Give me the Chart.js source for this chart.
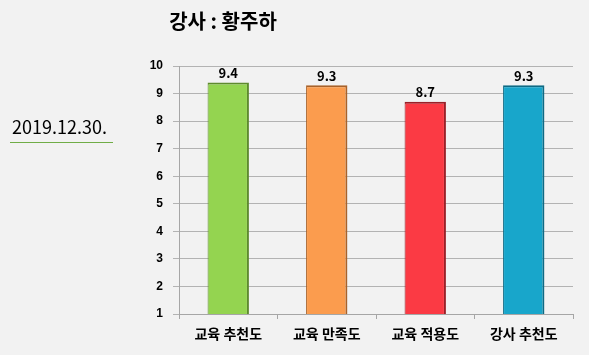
<!DOCTYPE html>
<html lang="ko">
<head>
  <meta charset="UTF-8">
  <title>강사 : 황주하</title>
  <script src="https://cdn.jsdelivr.net/npm/chart.js"></script>
  <style>
    html, body { margin: 0; padding: 0; background: #f2f2f2; }
    .wrap { position: relative; width: 589px; height: 355px; }
  </style>
</head>
<body>
  <div class="wrap"><canvas id="chart" width="589" height="355"></canvas></div>
  <script>
    // data
    const categories = ['교육 추천도', '교육 만족도', '교육 적용도', '강사 추천도'];
    const scores = [9.4, 9.3, 8.7, 9.3];
    const barColors = ['#94d450', '#fb9c4e', '#fb3a44', '#18a6cb'];
    const barEdges = ['#5e8a2e', '#a8622a', '#9a2028', '#0e6a84'];
    const titleText = '강사 : 황주하';
    const dateText = '2019.12.30.';

    const KR = '"Noto Sans CJK KR", "Noto Sans", sans-serif';

    // bar fill: light left, darker toward the right edge
    function barFill(ctx) {
      const el = ctx.element;
      const i = ctx.dataIndex;
      if (!el || el.width === undefined) return barColors[i];
      const g = ctx.chart.ctx.createLinearGradient(el.x - el.width / 2, 0, el.x + el.width / 2, 0);
      g.addColorStop(0, barColors[i]);
      g.addColorStop(0.8, barColors[i]);
      g.addColorStop(1, barEdges[i]);
      return g;
    }

    const extras = {
      id: 'extras',
      afterDraw(chart) {
        const c = chart.ctx;
        c.save();
        // title
        c.fillStyle = '#000';
        c.font = 'bold 20px ' + KR;
        c.textAlign = 'center';
        c.textBaseline = 'middle';
        c.fillText(titleText, 223, 21);
        // date + underline
        c.font = '18px ' + KR;
        c.textAlign = 'left';
        c.fillText(dateText, 12, 127);
        c.strokeStyle = '#70ad47';
        c.lineWidth = 1;
        c.beginPath();
        c.moveTo(10, 142.5);
        c.lineTo(113, 142.5);
        c.stroke();
        // value labels
        c.font = 'bold 13px ' + KR;
        c.textAlign = 'center';
        c.textBaseline = 'bottom';
        chart.getDatasetMeta(0).data.forEach((bar, i) => {
          c.fillText(scores[i].toFixed(1), bar.x, bar.y - 3);
        });
        c.restore();
      }
    };

    new Chart(document.getElementById('chart'), {
      type: 'bar',
      data: {
        labels: categories,
        datasets: [{
          data: scores,
          backgroundColor: barFill,
          borderColor: barEdges,
          borderWidth: { left: 1, right: 2, top: 2, bottom: 2 },
          borderSkipped: false,
          categoryPercentage: 0.42,
          barPercentage: 1
        }]
      },
      options: {
        responsive: false,
        animation: false,
        layout: { padding: { top: 66, right: 16, left: 0, bottom: 0 } },
        plugins: { legend: { display: false }, tooltip: { enabled: false } },
        scales: {
          x: {
            grid: { drawOnChartArea: false, offset: true, tickLength: 5, color: '#a6a6a6' },
            border: { color: '#a6a6a6' },
            ticks: { color: '#000', font: { family: KR, size: 14, weight: 'bold' }, padding: 6 },
            afterFit(s) { s.height = 41; }
          },
          y: {
            min: 1,
            max: 10,
            ticks: { stepSize: 1, color: '#000', font: { family: 'Arial, sans-serif', size: 12, weight: 'bold' }, padding: 10 },
            grid: { color: '#b3b3b3', tickLength: 6 },
            border: { color: '#a6a6a6' },
            afterFit(s) { s.width = 179; }
          }
        }
      },
      plugins: [extras]
    });
  </script>
</body>
</html>
